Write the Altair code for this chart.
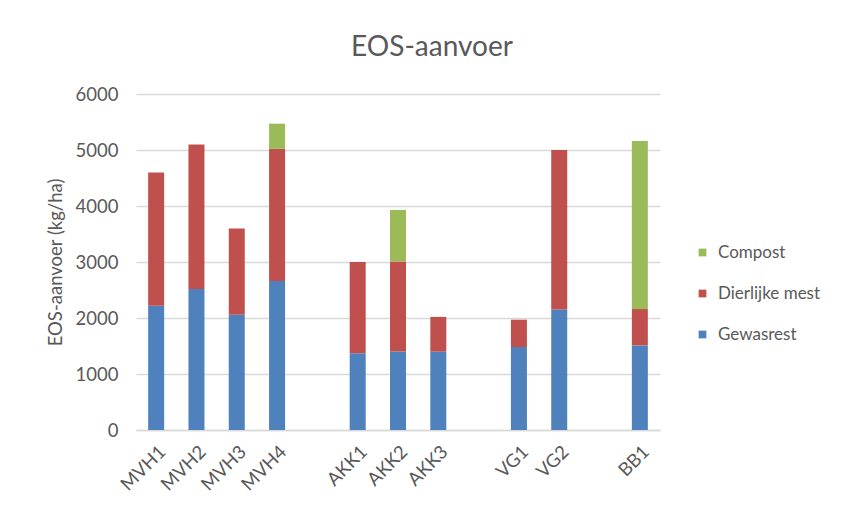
import altair as alt
import pandas as pd

categories = ["MVH1", "MVH2", "MVH3", "MVH4", "AKK1", "AKK2", "AKK3", "VG1", "VG2", "BB1"]
# axis order including empty group separators
axis_order = ["MVH1", "MVH2", "MVH3", "MVH4", " ", "AKK1", "AKK2", "AKK3", "  ",
              "VG1", "VG2", "   ", "BB1"]
series = ["Gewasrest", "Dierlijke mest", "Compost"]
gewasrest = [2220, 2520, 2060, 2660, 1370, 1400, 1400, 1480, 2150, 1510]
dierlijke_mest = [2380, 2580, 1540, 2360, 1630, 1610, 620, 490, 2850, 650]
compost = [0, 0, 0, 450, 0, 920, 0, 0, 0, 3000]
colors = ["#9BBB59", "#C0504D", "#4F81BD"]  # Compost, Dierlijke mest, Gewasrest

rows = []
for i, c in enumerate(categories):
    for k, (s, vals) in enumerate(zip(series, [gewasrest, dierlijke_mest, compost])):
        if vals[i] > 0:
            rows.append({"cat": c, "serie": s, "value": vals[i], "rank": k})
df = pd.DataFrame(rows)

FONT = "Lato"
GREY = "#595959"
FS = 18.5

chart = alt.Chart(df).mark_bar(size=16).encode(
    x=alt.X("cat:N", scale=alt.Scale(domain=axis_order, paddingInner=0.6, paddingOuter=0.3),
            axis=alt.Axis(title=None, labelAngle=-45, ticks=False, domain=True,
                          domainColor="#d9d9d9", domainWidth=1.5, labelFontSize=FS,
                          labelColor=GREY, labelFont=FONT, labelPadding=12)),
    y=alt.Y("value:Q", stack="zero",
            scale=alt.Scale(domain=[0, 6000], nice=False),
            axis=alt.Axis(title="EOS-aanvoer (kg/ha)", values=[0, 1000, 2000, 3000, 4000, 5000, 6000],
                          format="d", domain=False, ticks=False, gridColor="#d9d9d9", gridWidth=1.5,
                          labelFontSize=FS, labelColor=GREY, labelFont=FONT, labelPadding=18,
                          titleFontSize=FS, titleColor=GREY, titleFont=FONT, titleFontWeight="normal",
                          titlePadding=10)),
    color=alt.Color("serie:N", scale=alt.Scale(domain=["Compost", "Dierlijke mest", "Gewasrest"], range=colors),
                    legend=alt.Legend(title=None, orient="none", legendX=558, legendY=150,
                                      symbolType="square", symbolSize=60, symbolStrokeWidth=0,
                                      labelFontSize=17, labelColor=GREY, labelFont=FONT,
                                      labelOffset=7, rowPadding=23)),
    order=alt.Order("rank:Q", sort="ascending"),
).properties(
    width=524, height=336,
    title=alt.TitleParams("EOS-aanvoer", fontSize=28, font=FONT, color=GREY, fontWeight="normal",
                          anchor="middle", dx=34, offset=23),
    autosize=alt.AutoSizeParams(type="none"),
    padding={"left": 128, "top": 86, "right": 178, "bottom": 70},
).configure_view(stroke=None)

chart.save("out.html", embed_options={"renderer": "svg", "actions": False})
